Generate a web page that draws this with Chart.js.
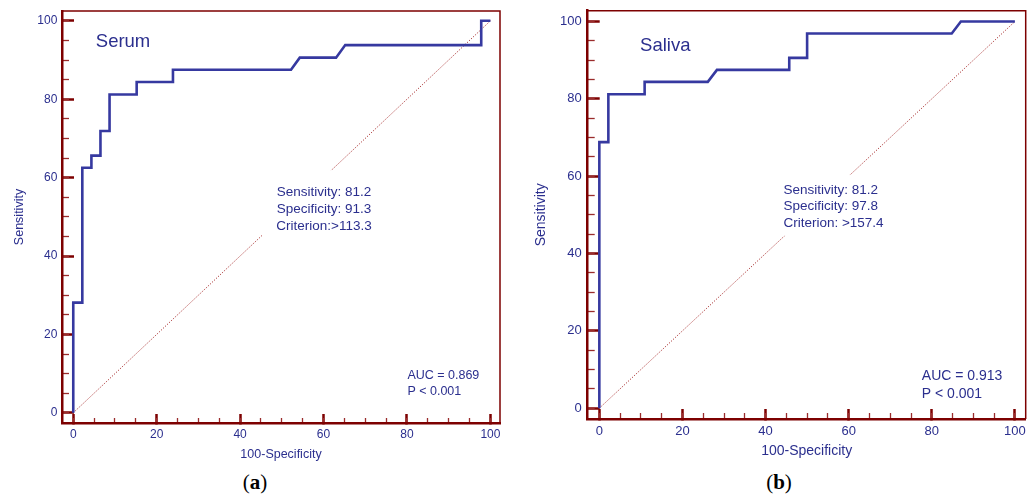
<!DOCTYPE html>
<html>
<head>
<meta charset="utf-8">
<script src="https://cdn.jsdelivr.net/npm/chart.js@4.4.1/dist/chart.umd.min.js"></script>
<style>
  body { margin: 0; background: #fff; }
  #wrap { position: relative; width: 1033px; height: 497px; overflow: hidden; }
  canvas { position: absolute; top: 0; }
  .cap { position: absolute; top: 470px; font-family: "Liberation Serif", "DejaVu Serif", serif; font-size: 21px; color: #000; transform: translateX(-50%); }
</style>
</head>
<body>
<div id="wrap">
  <canvas id="serumChart" width="525" height="470" style="left:0px"></canvas>
  <canvas id="salivaChart" width="513" height="470" style="left:520px"></canvas>
  <div class="cap" style="left:255px">(<b>a</b>)</div>
  <div class="cap" style="left:779px">(<b>b</b>)</div>
</div>
<script>
// ROC curve points: 100-Specificity (x) and Sensitivity (y)
const serumFpr = [0, 0, 2.17, 2.17, 4.35, 4.35, 6.52, 6.52, 8.7, 8.7, 15.2, 15.2, 23.9, 23.9, 52.2, 54.3, 63.0, 65.2, 97.8, 97.8, 100];
const serumTpr = [0, 28.1, 28.1, 62.5, 62.5, 65.6, 65.6, 71.9, 71.9, 81.2, 81.2, 84.4, 84.4, 87.5, 87.5, 90.6, 90.6, 93.8, 93.8, 100, 100];
const salivaFpr = [0, 0, 2.17, 2.17, 10.9, 10.9, 26.1, 28.3, 45.7, 45.7, 50.0, 50.0, 84.8, 87.0, 100];
const salivaTpr = [0, 68.8, 68.8, 81.2, 81.2, 84.4, 84.4, 87.5, 87.5, 90.6, 90.6, 96.9, 96.9, 100, 100];
const chanceLine = [0, 100];

const majorTicks = [0, 20, 40, 60, 80, 100];
const minorTicks = [0, 5, 10, 15, 20, 25, 30, 35, 40, 45, 50, 55, 60, 65, 70, 75, 80, 85, 90, 95, 100];

const panelTitles = ['Serum', 'Saliva'];
const serumStats = ['Sensitivity: 81.2', 'Specificity: 91.3', 'Criterion:>113.3'];
const salivaStats = ['Sensitivity: 81.2', 'Specificity: 97.8', 'Criterion: >157.4'];
const serumAuc = ['AUC = 0.869', 'P < 0.001'];
const salivaAuc = ['AUC = 0.913', 'P < 0.001'];

const navy = '#2b2f8e';
const curveBlue = '#3639a0';
const darkRed = '#7d0000';
const fontFam = '"Liberation Sans", Arial, sans-serif';

// draws the frame and the text blocks (positions in data units)
const notesPlugin = {
  id: 'notes',
  beforeDatasetsDraw(chart) {
    const { ctx, chartArea: a } = chart;
    ctx.save();
    ctx.strokeStyle = darkRed;
    ctx.lineWidth = 1.5;
    ctx.beginPath();
    ctx.moveTo(a.left, a.top);
    ctx.lineTo(a.right, a.top);
    ctx.lineTo(a.right, a.bottom);
    ctx.stroke();
    ctx.restore();
  },
  afterDatasetsDraw(chart, args, o) {
    const { ctx } = chart;
    const xs = chart.scales.x, ys = chart.scales.y;
    const px = v => xs.getPixelForValue(v);
    const py = v => ys.getPixelForValue(v);
    ctx.save();
    // white patch where the stats block sits over the chance line
    ctx.fillStyle = '#fff';
    const b = o.box;
    ctx.fillRect(px(b[0]), py(b[3]), px(b[1]) - px(b[0]), py(b[2]) - py(b[3]));

    ctx.fillStyle = navy;
    ctx.textBaseline = 'middle';
    ctx.font = o.titleSize + 'px ' + fontFam;
    ctx.textAlign = 'left';
    ctx.fillText(o.title, px(o.titleAt[0]), py(o.titleAt[1]));

    ctx.font = o.statSize + 'px ' + fontFam;
    ctx.textAlign = o.statAlign;
    o.stats.forEach((s, i) => ctx.fillText(s, px(o.statAt[0]), py(o.statAt[1]) + i * o.statGap));

    ctx.font = o.aucSize + 'px ' + fontFam;
    ctx.textAlign = 'left';
    o.auc.forEach((s, i) => ctx.fillText(s, px(o.aucAt[0]), py(o.aucAt[1]) + i * o.aucGap));
    ctx.restore();
  }
};

// fixed axis sizes, no label overhang padding
function fixSize(s, w, h) {
  if (w !== null) s.width = w;
  if (h !== null) s.height = h;
  s.paddingTop = 0; s.paddingBottom = 0; s.paddingLeft = 0; s.paddingRight = 0;
}

function makeRoc(id, fpr, tpr, p) {
  const pts = fpr.map((x, i) => ({ x: x, y: tpr[i] }));
  const diag = chanceLine.map(v => ({ x: v, y: v }));
  const tickFont = { family: fontFam, size: p.tickSize };
  const titleFont = { family: fontFam, size: p.axisTitleSize };

  const majorGrid = (len) => ({
    drawOnChartArea: false, drawTicks: true, tickLength: len,
    tickColor: darkRed, tickWidth: 2.5
  });
  const minorGrid = (len) => ({
    drawOnChartArea: false, drawTicks: true, tickLength: len,
    tickColor: '#9a2c2c', tickWidth: 1.3
  });

  new Chart(document.getElementById(id), {
    type: 'line',
    data: {
      datasets: [
        {
          data: pts, borderColor: curveBlue, borderWidth: 2.6,
          pointRadius: 0, fill: false, tension: 0, borderJoinStyle: 'miter'
        },
        {
          data: diag, borderColor: '#a83030', borderWidth: 1,
          borderDash: [1.2, 1.6], pointRadius: 0, fill: false
        }
      ]
    },
    options: {
      responsive: false,
      animation: false,
      layout: { padding: { top: p.padTop, right: p.padRight, left: 0, bottom: 0 } },
      plugins: {
        legend: { display: false },
        tooltip: { enabled: false },
        notes: p.notes
      },
      scales: {
        x: {
          type: 'linear', position: 'bottom', weight: 1,
          min: p.xMin, max: p.xMax,
          afterBuildTicks: s => { s.ticks = majorTicks.map(v => ({ value: v })); },
          afterFit: s => fixSize(s, null, p.xH),
          ticks: { color: navy, font: tickFont, padding: p.xTickPad, maxRotation: 0 },
          grid: majorGrid(-p.xMajor),
          border: { display: true, color: darkRed, width: 2.5 },
          title: { display: true, text: '100-Specificity', color: navy, font: titleFont,
                   padding: { top: 0, bottom: p.xTitlePad } }
        },
        x2: {
          type: 'linear', position: 'bottom', weight: 0,
          min: p.xMin, max: p.xMax,
          afterBuildTicks: s => { s.ticks = minorTicks.map(v => ({ value: v })); },
          afterFit: s => fixSize(s, null, 0),
          ticks: { display: false },
          grid: minorGrid(-p.xMinor),
          border: { display: false }
        },
        y: {
          type: 'linear', position: 'left', weight: 1,
          min: p.yMin, max: p.yMax,
          afterBuildTicks: s => { s.ticks = majorTicks.map(v => ({ value: v })); },
          afterFit: s => fixSize(s, p.yW, null),
          ticks: { color: navy, font: tickFont, padding: p.yTickPad },
          grid: majorGrid(-p.yMajor),
          border: { display: true, color: darkRed, width: 2.5 },
          title: { display: true, text: 'Sensitivity', color: navy, font: titleFont,
                   padding: { top: p.yTitlePad, bottom: 0 } }
        },
        y2: {
          type: 'linear', position: 'left', weight: 0,
          min: p.yMin, max: p.yMax,
          afterBuildTicks: s => { s.ticks = minorTicks.map(v => ({ value: v })); },
          afterFit: s => fixSize(s, 0, null),
          ticks: { display: false },
          grid: minorGrid(-p.yMinor),
          border: { display: false }
        }
      }
    },
    plugins: [notesPlugin]
  });
}

makeRoc('serumChart', serumFpr, serumTpr, {
  padTop: 11, padRight: 25, xH: 47, yW: 62,
  xMin: -2.7, xMax: 102.3, yMin: -2.6, yMax: 102.5,
  tickSize: 12, axisTitleSize: 12.5,
  xTickPad: 13.8, yTickPad: 16.7, xTitlePad: 8.2, yTitlePad: 12.5,
  xMajor: 9, xMinor: 5, yMajor: 12, yMinor: 7,
  notes: {
    title: panelTitles[0], titleSize: 18.5, titleAt: [5.4, 94.6],
    stats: serumStats, statSize: 13.5, statAlign: 'center', statAt: [60.1, 56.3], statGap: 17,
    auc: serumAuc, aucSize: 12.5, aucAt: [80.1, 9.6], aucGap: 16,
    box: [45.4, 73.0, 45.1, 61.9]
  }
});

makeRoc('salivaChart', salivaFpr, salivaTpr, {
  padTop: 10.7, padRight: 7.3, xH: 51, yW: 67.7,
  xMin: -2.8, xMax: 102.6, yMin: -2.8, yMax: 102.8,
  tickSize: 13, axisTitleSize: 14,
  xTickPad: 14.2, yTickPad: 18, xTitlePad: 10.9, yTitlePad: 12.3,
  xMajor: 10, xMinor: 6, yMajor: 12, yMinor: 7,
  notes: {
    title: panelTitles[1], titleSize: 18.5, titleAt: [9.8, 93.7],
    stats: salivaStats, statSize: 13.5, statAlign: 'left', statAt: [44.3, 56.3], statGap: 16.2,
    auc: salivaAuc, aucSize: 14, aucAt: [77.6, 8.2], aucGap: 17.6,
    box: [43.8, 70.4, 44.6, 60.3]
  }
});
</script>
</body>
</html>
